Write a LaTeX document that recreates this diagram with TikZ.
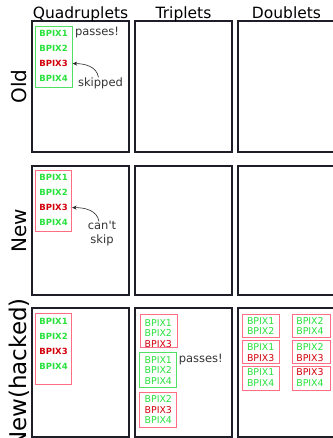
\documentclass[tikz,border=0pt]{standalone}
\usepackage{fontspec}
\setmainfont{DejaVu Sans}
\usepackage{tikz}
\usetikzlibrary{arrows.meta, positioning}
\definecolor{hitgreen}{RGB}{40,225,60}
\definecolor{missred}{RGB}{210,0,10}
\definecolor{boxred}{RGB}{255,110,130}
\definecolor{boxgreen}{RGB}{80,225,100}
\definecolor{panelline}{RGB}{30,30,40}
\tikzstyle{panel} = [rectangle,
minimum width=97pt,
minimum height=129pt,
inner sep=0pt,
draw=panelline, line width=1.8pt]
\tikzstyle{header} = [anchor=base, inner sep=0pt, font=\fontsize{15.5}{18}\selectfont]
\tikzstyle{rowlabel} = [rotate=90, anchor=base, inner sep=0pt, font=\fontsize{20}{24}\selectfont]
\tikzstyle{hit} = [inner sep=0pt, text=hitgreen, font=\fontsize{8.5}{10}\selectfont\bfseries]
\tikzstyle{miss} = [hit, text=missred]
\tikzstyle{hitlite} = [node distance=10.5pt, inner sep=0pt, text=hitgreen, font=\fontsize{9.4}{11}\selectfont]
\tikzstyle{misslite} = [hitlite, text=missred]
\tikzstyle{goodset} = [rectangle, inner sep=0pt, minimum width=37pt, draw=boxgreen, line width=0.8pt]
\tikzstyle{badset} = [goodset, draw=boxred]
\tikzstyle{note} = [inner sep=0pt, align=center, text=black!80, font=\fontsize{11.5}{14}\selectfont]
\tikzstyle{arrow} = [semithick, black!85, -{Stealth[length=4.5pt, width=4pt]}]

\begin{document}
\begin{tikzpicture}[x=1pt, y=-1pt, node distance=15.3pt]
    \useasboundingbox (0,0) rectangle (332,438);
    % panels
    \node (oldQ) [panel, minimum height=131pt] at (80.5,86.5) {};
    \node (oldT) [panel, minimum height=131pt] at (183.5,86.5) {};
    \node (oldD) [panel, minimum height=131pt] at (286.5,86.5) {};
    \node (newQ) [panel] at (80.5,230.5) {};
    \node (newT) [panel] at (183.5,230.5) {};
    \node (newD) [panel] at (286.5,230.5) {};
    \node (hackQ) [panel] at (80.5,372.5) {};
    \node (hackT) [panel] at (183.5,372.5) {};
    \node (hackD) [panel] at (286.5,372.5) {};

    \node (hQuad) [header] at (80.5,18.5) {Quadruplets};
    \node (hTrip) [header] at (183.5,18.5) {Triplets};
    \node (hDoub) [header] at (286.5,18.5) {Doublets};

    \node (lOld) [rowlabel] at (26,86.5) {Old};
    \node (lNew) [rowlabel] at (26,230.5) {New};
    \node (lHack) [rowlabel, anchor=base east, font=\fontsize{23}{27}\selectfont] at (26,298) {New(hacked)};

    % old: quadruplet passes, hole skipped
    \node (oSet) [goodset, minimum width=36.6pt, minimum height=61.7pt] at (54,56.85) {};
    \node (o1) [hit] at (53.5,33) {BPIX1};
    \node (o2) [hit, below of=o1] {BPIX2};
    \node (o3) [miss, below of=o2] {BPIX3};
    \node (o4) [hit, below of=o3] {BPIX4};
    \node (oPass) [note, right=7pt of o1] {passes!};
    \node (oSkip) [note] at (100.5,83) {skipped};
    \draw [arrow] ([xshift=-2pt]oSkip.north) to[out=100, in=0] (oSet.east |- o3);

    % new
    \node (nSet) [badset, minimum width=36pt, minimum height=60.3pt] at (53.7,200.85) {};
    \node (n1) [hit] at (53.5,177) {BPIX1};
    \node (n2) [hit, below of=n1] {BPIX2};
    \node (n3) [miss, below of=n2] {BPIX3};
    \node (n4) [hit, below of=n3] {BPIX4};
    \node (nSkip) [note] at (102,234) {can\textquotesingle t\\skip};
    \draw [arrow] ([xshift=-3pt]nSkip.north) to[out=100, in=0] (nSet.east |- n3);

    % new(hacked): quadruplets
    \node (hSet) [badset, minimum width=36pt, minimum height=71pt] at (53.7,348.5) {};
    \node (h1) [hit] at (53.5,321) {BPIX1};
    \node (h2) [hit, below of=h1, node distance=15pt] {BPIX2};
    \node (h3) [miss, below of=h2, node distance=15pt] {BPIX3};
    \node (h4) [hit, below of=h3, node distance=15pt] {BPIX4};

    % new(hacked): triplets
    \node (tSetA) [badset, minimum width=37.3pt, minimum height=33.3pt] at (158.7,330.7) {};
    \node (tA1) [hitlite] at (158.3,322.7) {BPIX1};
    \node (tA2) [hitlite, below of=tA1] {BPIX2};
    \node (tA3) [misslite, below of=tA2] {BPIX3};
    \node (tSetB) [goodset, minimum width=37.4pt, minimum height=35pt] at (158,369.8) {};
    \node (tB1) [hitlite] at (158.3,360) {BPIX1};
    \node (tB2) [hitlite, below of=tB1] {BPIX2};
    \node (tB4) [hitlite, below of=tB2] {BPIX4};
    \node (tPass) [note, right=6.4pt of tB1] {passes!};
    \node (tSetC) [badset, minimum width=37.7pt, minimum height=35pt] at (157.9,410.2) {};
    \node (tC2) [hitlite] at (158.3,399.3) {BPIX2};
    \node (tC3) [misslite, below of=tC2] {BPIX3};
    \node (tC4) [hitlite, below of=tC3] {BPIX4};

    % new(hacked): doublets
    \node (dSet12) [badset, minimum height=23.5pt] at (260.8,325.75) {};
    \node (d12a) [hitlite] at (260.7,320.7) {BPIX1};
    \node (d12b) [hitlite, below of=d12a, node distance=10.8pt] {BPIX2};
    \node (dSet13) [badset, minimum height=23.5pt] at (260.8,352) {};
    \node (d13a) [hitlite] at (260.7,347) {BPIX1};
    \node (d13b) [misslite, below of=d13a, node distance=10.8pt] {BPIX3};
    \node (dSet14) [badset, minimum height=24pt] at (260.8,378.3) {};
    \node (d14a) [hitlite] at (260.7,372.3) {BPIX1};
    \node (d14b) [hitlite, below of=d14a, node distance=10.8pt] {BPIX4};
    \node (dSet24) [badset, minimum width=37.7pt, minimum height=23.5pt] at (311.2,325.75) {};
    \node (d24a) [hitlite] at (310,320.7) {BPIX2};
    \node (d24b) [hitlite, below of=d24a, node distance=10.8pt] {BPIX4};
    \node (dSet23) [badset, minimum width=37.7pt, minimum height=23.5pt] at (311.2,352) {};
    \node (d23a) [hitlite] at (310,347) {BPIX2};
    \node (d23b) [misslite, below of=d23a, node distance=10.8pt] {BPIX3};
    \node (dSet34) [badset, minimum width=37.7pt, minimum height=24pt] at (311.2,378.3) {};
    \node (d34a) [misslite] at (310,372.3) {BPIX3};
    \node (d34b) [hitlite, below of=d34a, node distance=10.8pt] {BPIX4};
\end{tikzpicture}
\end{document}
